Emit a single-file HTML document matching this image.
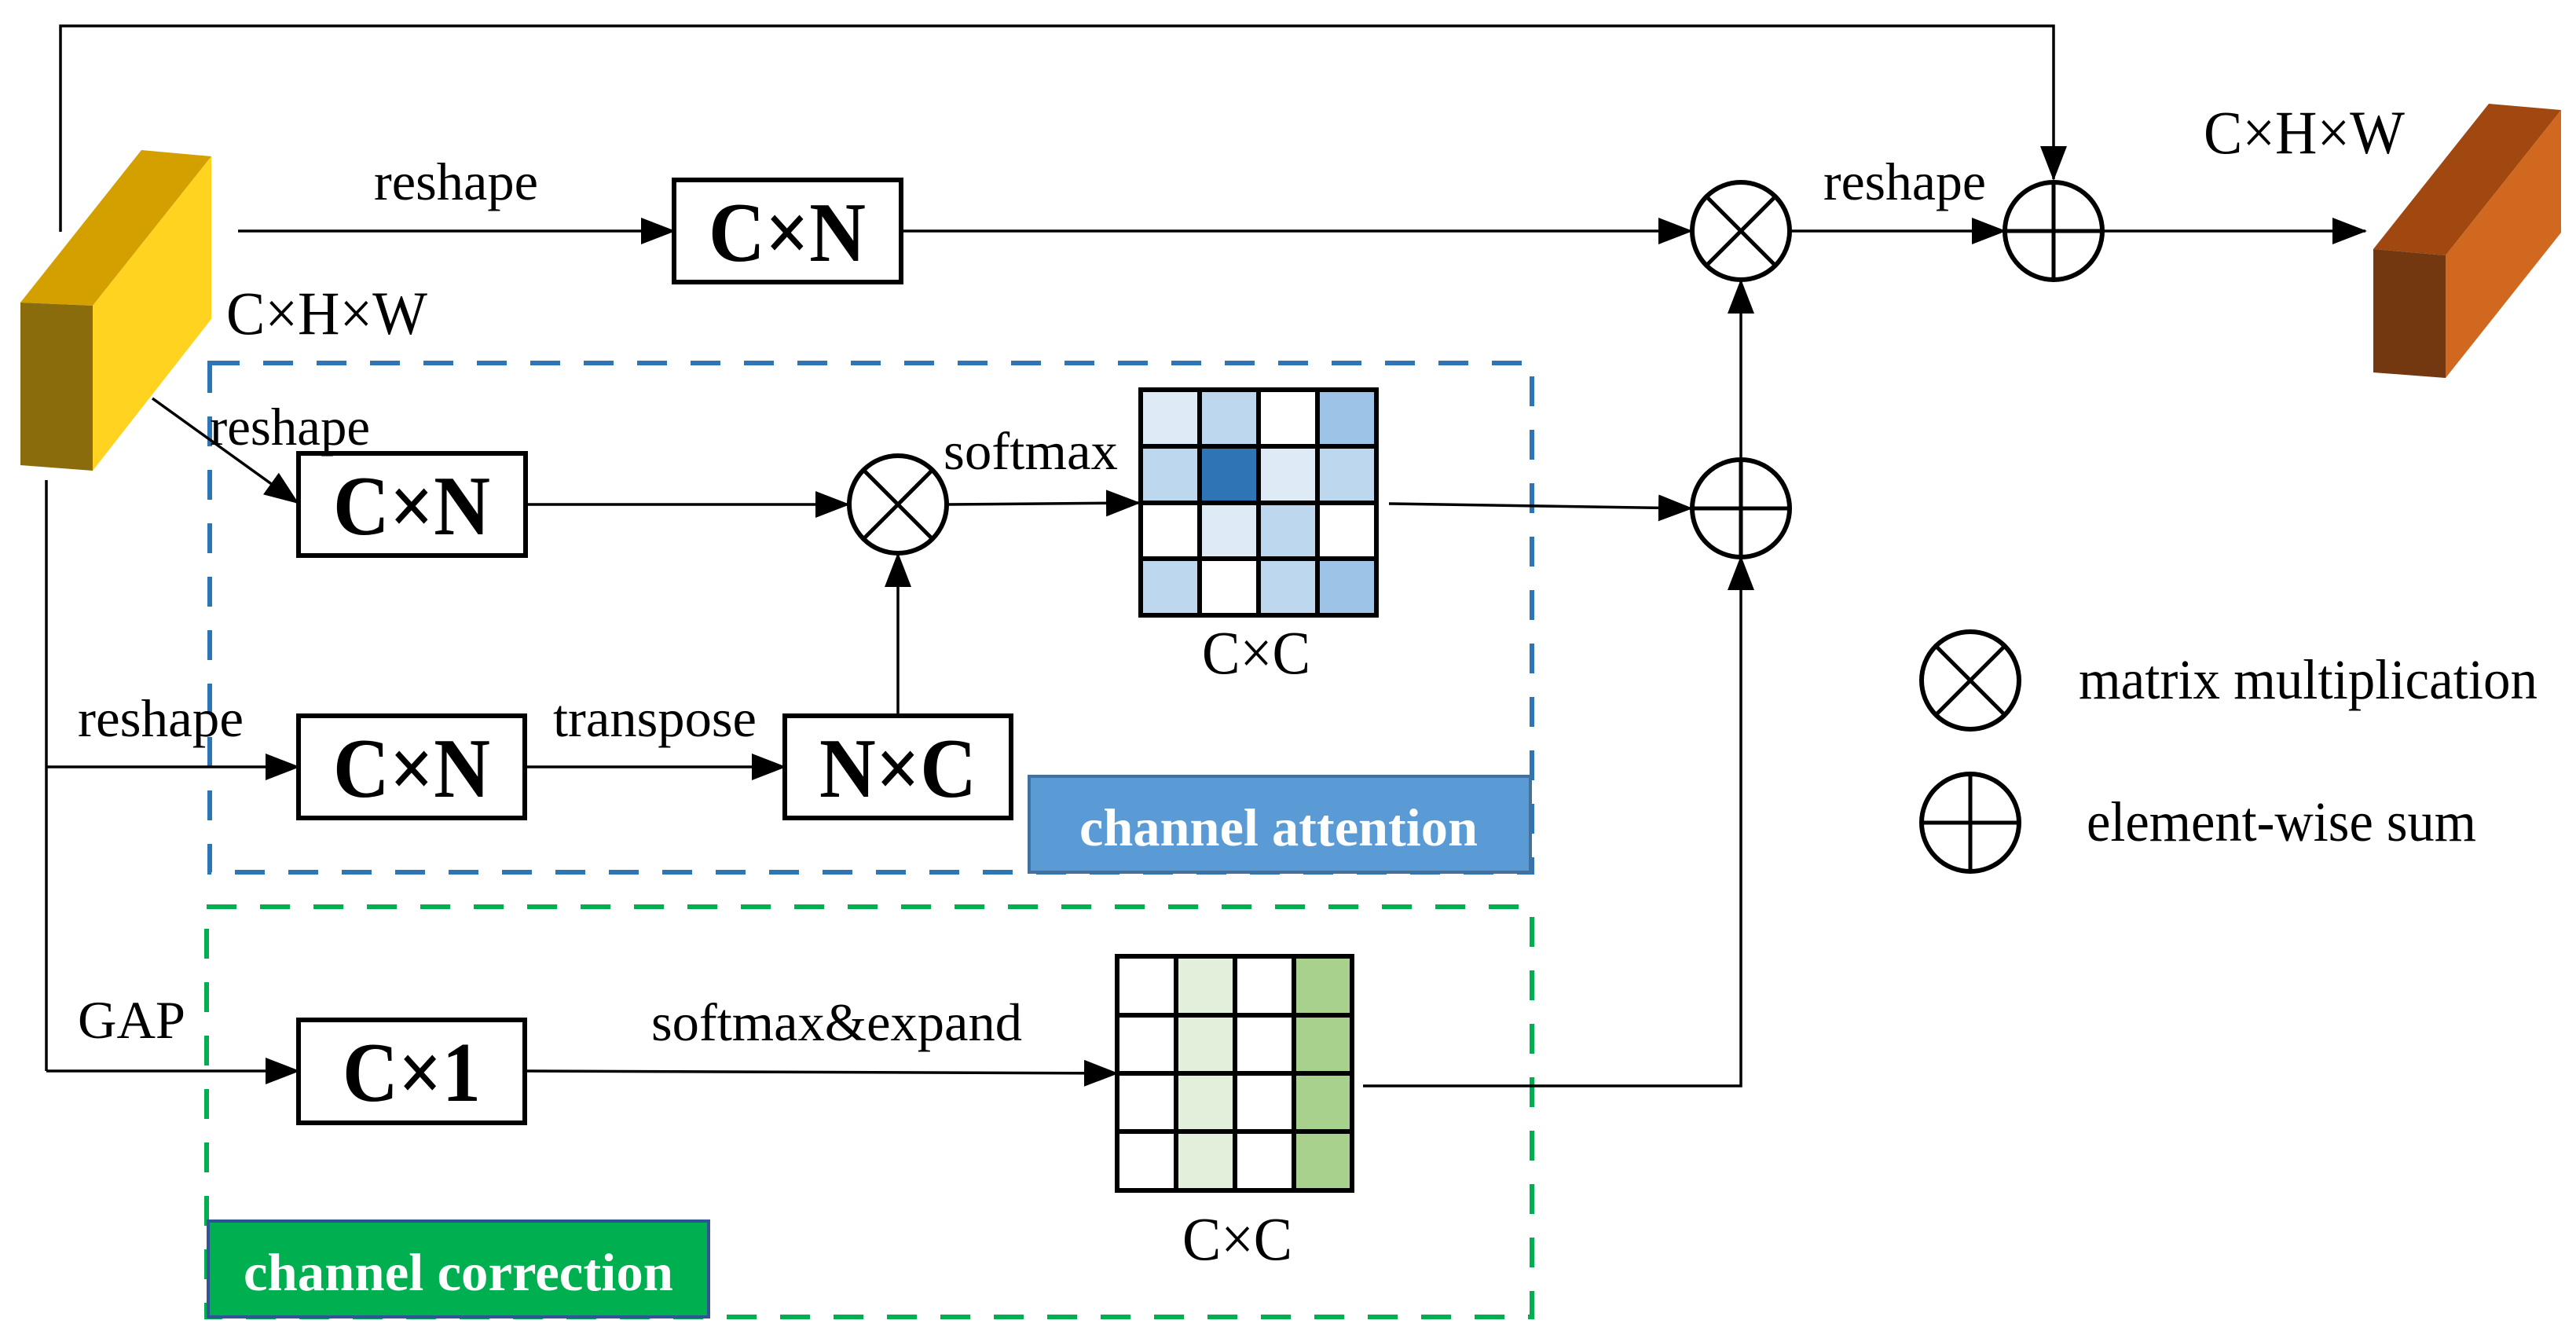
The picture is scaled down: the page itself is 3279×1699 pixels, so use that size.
<!DOCTYPE html>
<html><head><meta charset="utf-8"><style>
html,body{margin:0;padding:0;background:#fff;}
svg{display:block;}
text{font-family:"Liberation Serif",serif;fill:#000;}
.lbl{font-size:68px;}
.bx{font-size:108px;font-weight:bold;}
.dim{font-size:78px;}
</style></head><body>
<svg width="3279" height="1699" viewBox="0 0 3279 1699" xmlns="http://www.w3.org/2000/svg">
<defs>
<marker id="ah" markerWidth="44" markerHeight="34" refX="42" refY="17" orient="auto" markerUnits="userSpaceOnUse">
<path d="M0,0 L44,17 L0,34 Z" fill="#000"/>
</marker>
</defs>

<!-- input yellow block -->
<polygon points="26,385 180,191 269,199 118,389" fill="#d4a000"/>
<polygon points="118,389 269,199 269,406 118,599" fill="#ffd320"/>
<polygon points="26,385 118,389 118,599 26,592" fill="#8b6c0c"/>

<!-- output orange block -->
<polygon points="3021,317 3168,132 3260,140 3113,325" fill="#a04810"/>
<polygon points="3113,325 3260,140 3260,296 3113,481" fill="#d06820"/>
<polygon points="3021,317 3113,325 3113,481 3021,474" fill="#733810"/>

<!-- dashed regions -->
<rect x="267" y="462" width="1683" height="648" fill="none" stroke="#2e75b6" stroke-width="6" stroke-dasharray="38,30"/>
<rect x="263" y="1154" width="1687" height="522" fill="none" stroke="#00b050" stroke-width="6" stroke-dasharray="38,30"/>

<!-- channel attention label -->
<rect x="1310" y="988" width="638" height="122" fill="#5b9bd5" stroke="#41719c" stroke-width="4"/>
<text x="1374" y="1076" font-size="68" font-weight="bold" style="fill:#fff" textLength="507" lengthAdjust="spacingAndGlyphs">channel attention</text>
<!-- channel correction label -->
<rect x="265" y="1554" width="637" height="122" fill="#00b050" stroke="#2f5597" stroke-width="4"/>
<text x="310" y="1642" font-size="68" font-weight="bold" style="fill:#fff" textLength="547" lengthAdjust="spacingAndGlyphs">channel correction</text>

<!-- lines -->
<g stroke="#000" stroke-width="3.5" fill="none">
<polyline points="77,295 77,33 2614,33 2614,228" marker-end="url(#ah)"/>
<line x1="303" y1="294" x2="858" y2="294" marker-end="url(#ah)"/>
<line x1="1147" y1="294" x2="2153" y2="294" marker-end="url(#ah)"/>
<line x1="2279" y1="294" x2="2552" y2="294" marker-end="url(#ah)"/>
<line x1="2676" y1="294" x2="3011" y2="294" marker-end="url(#ah)"/>
<line x1="194" y1="507" x2="379" y2="640" marker-end="url(#ah)"/>
<line x1="669" y1="642" x2="1080" y2="642" marker-end="url(#ah)"/>
<line x1="1206" y1="642" x2="1450" y2="640" marker-end="url(#ah)"/>
<line x1="1768" y1="641" x2="2153" y2="647" marker-end="url(#ah)"/>
<line x1="2216" y1="584" x2="2216" y2="357" marker-end="url(#ah)"/>
<polyline points="1735,1382 2216,1382 2216,709" marker-end="url(#ah)"/>
<line x1="59" y1="611" x2="59" y2="1363"/>
<line x1="59" y1="976" x2="380" y2="976" marker-end="url(#ah)"/>
<line x1="668" y1="976" x2="999" y2="976" marker-end="url(#ah)"/>
<line x1="1143" y1="911" x2="1143" y2="705" marker-end="url(#ah)"/>
<line x1="59" y1="1363" x2="380" y2="1363" marker-end="url(#ah)"/>
<line x1="668" y1="1363" x2="1422" y2="1366" marker-end="url(#ah)"/>
</g>

<!-- boxes -->
<g fill="#fff" stroke="#000" stroke-width="6">
<rect x="858" y="229" width="289" height="130"/>
<rect x="380" y="577" width="289" height="130"/>
<rect x="380" y="911" width="288" height="130"/>
<rect x="999" y="911" width="288" height="130"/>
<rect x="380" y="1298" width="288" height="131"/>
</g>
<g class="bx">
<text x="902" y="332" textLength="200" lengthAdjust="spacingAndGlyphs">C×N</text>
<text x="424" y="680" textLength="200" lengthAdjust="spacingAndGlyphs">C×N</text>
<text x="424" y="1014" textLength="200" lengthAdjust="spacingAndGlyphs">C×N</text>
<text x="1043" y="1014" textLength="200" lengthAdjust="spacingAndGlyphs">N×C</text>
<text x="436" y="1401" textLength="176" lengthAdjust="spacingAndGlyphs">C×1</text>
</g>

<!-- operators -->
<g fill="#fff" stroke="#000" stroke-width="6">
<circle cx="1143" cy="642" r="62"/>
<circle cx="2216" cy="294" r="62"/>
<circle cx="2614" cy="294" r="62"/>
<circle cx="2216" cy="647" r="62"/>
<circle cx="2508" cy="866" r="62"/>
<circle cx="2508" cy="1047" r="62"/>
</g>
<g stroke="#000" stroke-width="5">
<line x1="1099" y1="598" x2="1187" y2="686"/><line x1="1187" y1="598" x2="1099" y2="686"/>
<line x1="2172" y1="250" x2="2260" y2="338"/><line x1="2260" y1="250" x2="2172" y2="338"/>
<line x1="2464" y1="822" x2="2552" y2="910"/><line x1="2552" y1="822" x2="2464" y2="910"/>
<line x1="2552" y1="294" x2="2676" y2="294"/><line x1="2614" y1="232" x2="2614" y2="356"/>
<line x1="2154" y1="647" x2="2278" y2="647"/><line x1="2216" y1="585" x2="2216" y2="709"/>
<line x1="2446" y1="1047" x2="2570" y2="1047"/><line x1="2508" y1="985" x2="2508" y2="1109"/>
</g>

<!-- blue matrix -->
<g stroke="#000" stroke-width="6">
<rect x="1452" y="496" width="75" height="72" fill="#deebf7"/>
<rect x="1527" y="496" width="75" height="72" fill="#bdd7ee"/>
<rect x="1602" y="496" width="75" height="72" fill="#fff"/>
<rect x="1677" y="496" width="75" height="72" fill="#9dc3e6"/>
<rect x="1452" y="568" width="75" height="72" fill="#bdd7ee"/>
<rect x="1527" y="568" width="75" height="72" fill="#2e75b6"/>
<rect x="1602" y="568" width="75" height="72" fill="#deebf7"/>
<rect x="1677" y="568" width="75" height="72" fill="#bdd7ee"/>
<rect x="1452" y="640" width="75" height="71" fill="#fff"/>
<rect x="1527" y="640" width="75" height="71" fill="#deebf7"/>
<rect x="1602" y="640" width="75" height="71" fill="#bdd7ee"/>
<rect x="1677" y="640" width="75" height="71" fill="#fff"/>
<rect x="1452" y="711" width="75" height="72" fill="#bdd7ee"/>
<rect x="1527" y="711" width="75" height="72" fill="#fff"/>
<rect x="1602" y="711" width="75" height="72" fill="#bdd7ee"/>
<rect x="1677" y="711" width="75" height="72" fill="#9dc3e6"/>
</g>
<!-- green matrix -->
<g stroke="#000" stroke-width="6">
<rect x="1422" y="1217" width="75" height="75" fill="#fff"/>
<rect x="1497" y="1217" width="75" height="75" fill="#e2efda"/>
<rect x="1572" y="1217" width="75" height="75" fill="#fff"/>
<rect x="1647" y="1217" width="74" height="75" fill="#a9d18e"/>
<rect x="1422" y="1292" width="75" height="74" fill="#fff"/>
<rect x="1497" y="1292" width="75" height="74" fill="#e2efda"/>
<rect x="1572" y="1292" width="75" height="74" fill="#fff"/>
<rect x="1647" y="1292" width="74" height="74" fill="#a9d18e"/>
<rect x="1422" y="1366" width="75" height="74" fill="#fff"/>
<rect x="1497" y="1366" width="75" height="74" fill="#e2efda"/>
<rect x="1572" y="1366" width="75" height="74" fill="#fff"/>
<rect x="1647" y="1366" width="74" height="74" fill="#a9d18e"/>
<rect x="1422" y="1440" width="75" height="75" fill="#fff"/>
<rect x="1497" y="1440" width="75" height="75" fill="#e2efda"/>
<rect x="1572" y="1440" width="75" height="75" fill="#fff"/>
<rect x="1647" y="1440" width="74" height="75" fill="#a9d18e"/>
</g>

<!-- labels -->
<g class="lbl">
<text x="476" y="254" textLength="209" lengthAdjust="spacingAndGlyphs">reshape</text>
<text x="2321" y="254" textLength="207" lengthAdjust="spacingAndGlyphs">reshape</text>
<text x="267" y="566" textLength="204" lengthAdjust="spacingAndGlyphs">reshape</text>
<text x="1201" y="597" textLength="222" lengthAdjust="spacingAndGlyphs">softmax</text>
<text x="99" y="937" textLength="211" lengthAdjust="spacingAndGlyphs">reshape</text>
<text x="704" y="937" textLength="259" lengthAdjust="spacingAndGlyphs">transpose</text>
<text x="99" y="1321" textLength="137" lengthAdjust="spacingAndGlyphs">GAP</text>
<text x="829" y="1324" textLength="472" lengthAdjust="spacingAndGlyphs">softmax&amp;expand</text>
</g>
<g class="dim">
<text x="288" y="425" textLength="256" lengthAdjust="spacingAndGlyphs">C×H×W</text>
<text x="2805" y="195" textLength="256" lengthAdjust="spacingAndGlyphs">C×H×W</text>
<text x="1530" y="857" textLength="138" lengthAdjust="spacingAndGlyphs">C×C</text>
<text x="1505" y="1603" textLength="140" lengthAdjust="spacingAndGlyphs">C×C</text>
</g>
<text x="2646" y="889" font-size="72" textLength="584" lengthAdjust="spacingAndGlyphs">matrix multiplication</text>
<text x="2656" y="1070" font-size="72" textLength="496" lengthAdjust="spacingAndGlyphs">element-wise sum</text>
</svg>
</body></html>
